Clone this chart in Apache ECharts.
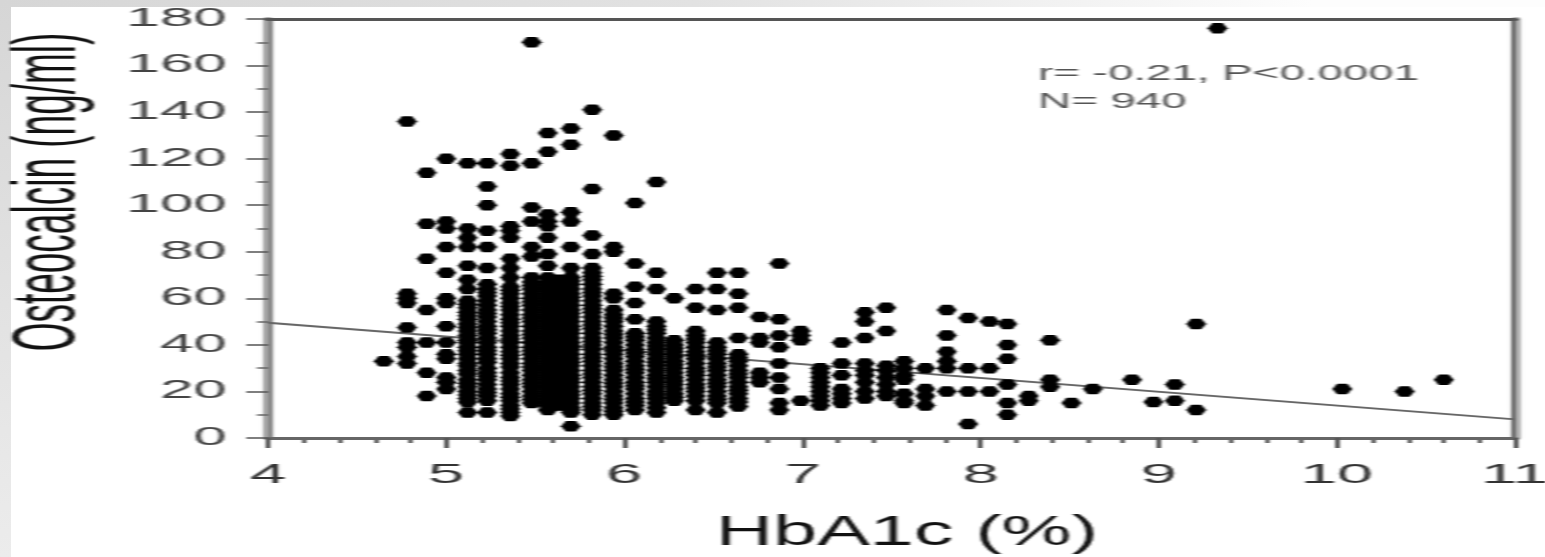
<!DOCTYPE html>
<html>
<head>
<meta charset="utf-8">
<title>Osteocalcin vs HbA1c</title>
<script src="https://cdn.jsdelivr.net/npm/echarts@6/dist/echarts.min.js"></script>
<style>
  html, body { margin: 0; padding: 0; width: 1545px; height: 557px; overflow: hidden; background: #fff; }
  #band-top { position: absolute; left: 0; top: 0; width: 1545px; height: 7px; background: linear-gradient(to right, #d6d6d6, #e2e2e2 45%, #fdfdfd 85%); }
  #band-left { position: absolute; left: 0; top: 0; width: 11px; height: 557px; background: linear-gradient(to bottom, #d6d6d6, #ececec); }
  /* the source picture is a scan stretched sideways, so the chart is drawn narrow and widened */
  #chart { position: absolute; left: 0; top: 0; width: 640px; height: 557px; transform-origin: 0 0; transform: scaleX(2.4140625); filter: blur(0.5px); }
</style>
</head>
<body>
<div id="band-top"></div>
<div id="band-left"></div>
<div id="chart"></div>
<script>
var STRETCH = 1545 / 640;

var xTicks = [4, 5, 6, 7, 8, 9, 10, 11];
var yTicks = [0, 20, 40, 60, 80, 100, 120, 140, 160, 180];

var regressionX = [4, 11];
var regressionY = [49.5, 8];

// HbA1c readings come in steps, so the points sit in columns
var columnX = [
  4.65, 4.78, 4.89, 5.0, 5.12, 5.23, 5.36, 5.48, 5.57, 5.63, 5.7, 5.82, 5.94, 6.06, 6.18, 6.28, 6.4, 6.52, 6.64,
  6.76, 6.87, 6.99, 7.1, 7.22, 7.35, 7.47, 7.57, 7.69, 7.81, 7.93, 8.05, 8.15, 8.27, 8.39, 8.51, 8.63,
  8.85, 8.97, 9.09, 9.21, 9.33, 10.03, 10.38, 10.6
];
var columnY = [
  [33],
  [136, 62, 60, 58, 47.5, 41, 39, 35, 32],
  [114, 92, 77, 55, 41, 28, 18],
  [120, 93, 90, 82, 71, 60, 58, 48, 41, 36, 34, 26, 24, 21],
  [118, 90, 86, 82, 74, 68, 64, 59, 57.5, 56, 54, 52.5, 51, 49, 47.5, 46, 44, 42, 41, 39, 37.5, 36, 34, 32, 31, 29, 27.5, 25, 23.5, 22, 20, 18.5, 17, 15.5, 11],
  [118, 108, 100, 89, 82, 73, 66, 64, 62.5, 61, 59, 57, 55, 53.5, 52, 50, 48, 46.5, 45, 43, 41, 39, 37.5, 36, 34, 32.5, 30, 28, 26.5, 25, 23, 21, 19.5, 18, 16, 11],
  [122, 117, 91, 89, 86, 77, 73, 69, 65, 63.5, 62, 60, 58, 56.5, 55, 53, 51, 49.5, 48, 46, 44, 42.5, 41, 39, 37, 35.5, 34, 32, 30.5, 28, 26, 24.5, 23, 21, 19, 17.5, 16, 14, 12.5, 11, 9.5],
  [170, 118, 99, 93, 82, 78, 69, 67, 65.5, 64, 62, 60, 58.5, 57, 55, 53, 51.5, 50, 48, 46, 44.5, 43, 41, 39, 37.5, 36, 34, 32, 30.5, 29, 27, 25, 23.5, 22, 20, 18, 16.5, 15],
  [131, 123, 96, 93, 91, 86, 79, 74, 69, 66, 64.5, 63, 61, 59, 57.5, 56, 54, 52, 50.5, 49, 47, 45, 43.5, 42, 40, 38, 36.5, 35, 33, 31, 29.5, 28, 26, 24, 22.5, 21, 19, 17, 15.5, 14, 12],
  [68, 66, 64, 62.5, 60, 58, 56, 54.5, 52, 50, 48.5, 46, 44, 42, 40.5, 38, 36, 34.5, 32, 30, 28, 26.5, 24, 22, 20.5, 18, 16, 14],
  [133, 126, 97, 93, 82, 73, 69, 67.5, 66, 64, 62, 60.5, 59, 57, 55, 53.5, 52, 50, 48, 46.5, 45, 43, 41, 39.5, 38, 36, 34, 32.5, 31, 29, 27, 25.5, 24, 22, 20, 18.5, 17, 15, 13, 12, 11, 5],
  [141, 107, 87, 79, 73, 71, 69.5, 68, 66, 64, 62.5, 61, 59, 57, 55.5, 54, 52, 50, 48.5, 47, 45, 43, 41.5, 40, 38, 36, 34.5, 33, 31, 29, 27.5, 26, 24, 22, 20.5, 19, 17, 15, 13.5, 12, 10],
  [130, 82, 80, 62, 60, 55, 53, 51.5, 50, 48, 46, 44.5, 43, 41, 39, 37.5, 36, 34, 32, 30.5, 29, 27, 25, 23.5, 22, 20, 18, 16.5, 15, 13, 11.5, 10],
  [101, 75, 65, 58, 51, 45, 43.5, 42, 40, 38, 36.5, 35, 33, 31, 29.5, 28, 26, 24, 22.5, 21, 19, 17, 15.5, 14, 12],
  [110, 71, 64, 50, 48, 46.5, 45, 43, 41, 39.5, 38, 36, 34, 32.5, 31, 29, 27, 25.5, 24, 22, 20, 18.5, 17, 15, 13, 11],
  [60, 42, 40, 38.5, 37, 35, 33, 31.5, 30, 28, 26, 24.5, 23, 21, 19, 17.5, 16],
  [64, 56, 46, 44, 42.5, 41, 39, 37, 35.5, 34, 32, 30, 28.5, 27, 25, 23, 21.5, 20, 18, 16, 12],
  [71, 64, 55, 41, 39, 37.5, 36, 34, 32, 30.5, 29, 27, 25, 23.5, 22, 20, 18, 16.5, 15, 11],
  [71, 62, 56, 43, 36, 34.5, 33, 31, 29, 27.5, 26, 24, 22, 20.5, 19, 17, 15.5, 13.5],
  [52, 43, 41, 28, 26, 24],
  [75, 51, 44, 39, 32, 26, 21, 15, 12],
  [46, 44, 42, 16],
  [30, 28, 26, 24, 22, 20, 18, 16, 14],
  [41, 32, 27, 21, 19, 17, 15],
  [54, 50, 43, 32, 29, 27, 24, 20, 17],
  [56, 46, 31, 29, 26, 23, 20, 18],
  [33, 30, 27, 25, 19, 16, 15],
  [30, 21, 18, 14],
  [55, 44, 37, 33, 30, 20],
  [51.5, 30, 20, 6],
  [50, 30, 20],
  [49, 40, 34, 23, 15, 10],
  [18, 16],
  [42, 25, 22],
  [15],
  [21],
  [25],
  [15.5],
  [23, 16],
  [49, 12],
  [176],
  [21],
  [20],
  [25]
];

function buildPoints() {
  var points = [];
  columnX.forEach(function (x, i) {
    columnY[i].forEach(function (y) {
      points.push([x, y]);
    });
  });
  return points;
}

var chart = echarts.init(document.getElementById("chart"), null, { renderer: "canvas", devicePixelRatio: 1 });

// bare axis, only there to draw a frame edge
function frameAxis(position, min, max, color, width, offset) {
  return {
    type: "value", min: min, max: max, position: position, offset: offset,
    axisLine: { show: true, onZero: false, lineStyle: { color: color, width: width } },
    axisTick: { show: false }, axisLabel: { show: false }, splitLine: { show: false }, minorTick: { show: false }
  };
}

chart.setOption({
  animation: false,
  grid: { left: 268 / STRETCH, right: 640 - 1515 / STRETCH, top: 19, bottom: 557 - 438, outerBoundsMode: "none" },
  xAxis: [
    {
      type: "value", min: 4, max: 11, interval: 1, position: "bottom",
      axisLine: { lineStyle: { color: "#666", width: 3 } },
      axisTick: { inside: false, length: 10, lineStyle: { color: "#555", width: 2 } },
      minorTick: { show: true, splitNumber: 5, length: 5, lineStyle: { color: "#666", width: 2 } },
      splitLine: { show: false },
      axisLabel: {
        margin: 24, color: "#333", fontSize: 27, fontFamily: "Liberation Sans",
        customValues: xTicks, showMinLabel: true, showMaxLabel: true, hideOverlap: false
      }
    },
    frameAxis("top", 4, 11, "#555", 3, 0)
  ],
  yAxis: [
    {
      type: "value", min: 0, max: 180, interval: 20, position: "left",
      axisLine: { lineStyle: { color: "#a8a8a8", width: 10 / STRETCH } },
      axisTick: { inside: false, length: 9, lineStyle: { color: "#555", width: 1.5 } },
      minorTick: { show: true, splitNumber: 2, length: 4.6, lineStyle: { color: "#666", width: 1.5 } },
      splitLine: { show: false },
      axisLabel: {
        margin: 17, color: "#444", fontSize: 25, fontFamily: "Liberation Sans",
        customValues: yTicks, showMinLabel: true, showMaxLabel: true, hideOverlap: false
      }
    },
    frameAxis("left", 0, 180, "#888", 5 / STRETCH, -1),
    frameAxis("right", 0, 180, "#b5b5b5", 10 / STRETCH, 0),
    frameAxis("right", 0, 180, "#6f6f6f", 5 / STRETCH, -1)
  ],
  series: [
    {
      type: "line", z: 1, data: regressionX.map(function (x, i) { return [x, regressionY[i]]; }),
      showSymbol: false, silent: true, lineStyle: { color: "#666", width: 2 }
    },
    {
      type: "scatter", z: 2, data: buildPoints(),
      symbol: "path://M25,0 L75,0 L100,50 L75,100 L25,100 L0,50 Z", symbolKeepAspect: false,
      symbolSize: [20 / STRETCH, 10.5], itemStyle: { color: "#000", opacity: 1 }
    }
  ],
  graphic: [
    {
      type: "text", x: 50 / STRETCH, y: 192, rotation: Math.PI / 2,
      style: { text: "Osteocalcin (ng/ml)", font: "37px 'Liberation Sans'", fill: "#111", align: "center", verticalAlign: "middle" }
    },
    {
      type: "text", x: 907 / STRETCH, y: 533, scaleX: 0.78,
      style: { text: "HbA1c (%)", font: "42px 'Liberation Sans'", fill: "#111", align: "center", verticalAlign: "middle" }
    },
    {
      type: "text", x: 1038 / STRETCH, y: 74, scaleX: 0.86,
      style: { text: "r= -0.21, P<0.0001", font: "22px 'Liberation Sans'", fill: "#555", align: "left", verticalAlign: "middle" }
    },
    {
      type: "text", x: 1038 / STRETCH, y: 102, scaleX: 0.86,
      style: { text: "N= 940", font: "22px 'Liberation Sans'", fill: "#555", align: "left", verticalAlign: "middle" }
    }
  ]
});
</script>
</body>
</html>
